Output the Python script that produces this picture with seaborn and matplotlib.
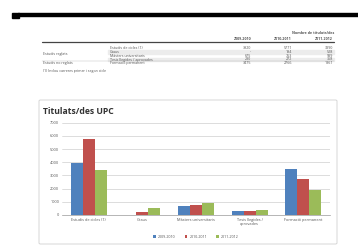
import numpy as np
import pandas as pd
import seaborn as sb
import matplotlib.pyplot as plt
from matplotlib.patches import Rectangle, FancyBboxPatch

# data
years = ["2009-2010", "2010-2011", "2011-2012"]
categories = ["Estudis de cicles (1)", "Graus", "Màsters universitaris",
              "Tesis llegides /\naprovades", "Formació permanent"]
row_labels = ["Estudis de cicles (1)", "Graus", "Màsters universitaris",
              "Tesis llegides / aprovades", "Formació permanent"]
groups = ["Estudis reglats", "Estudis no reglats"]
v_2009 = [3920, np.nan, 675, 280, 3475]
v_2010 = [5771, 194, 763, 272, 2766]
v_2011 = [3390, 528, 939, 358, 1861]
colors = ["#4F81BD", "#C0504D", "#9BBB59"]

W, H = 358, 249


def fx(x):
    return x / W


def fy(y):
    return 1 - y / H


sb.set_theme(style="white")
plt.rcParams['font.family'] = ['Open Sans', 'DejaVu Sans']

fig = plt.figure(figsize=(W / 100, H / 100), dpi=100)
fig.patch.set_facecolor("white")

# page header bar
fig.patches.append(Rectangle((fx(18), fy(15.7)), fx(340), 2.4 / H,
                             transform=fig.transFigure, color="black"))
fig.patches.append(Rectangle((fx(12), fy(18)), fx(7), 5 / H,
                             transform=fig.transFigure, color="black"))

# table
fs = 2.6
tc = "#555555"
fig.text(fx(334), fy(32.5), "Nombre de titulats/des", fontsize=fs, ha="right",
         va="center", color=tc, weight="bold")
col_x = [251, 292, 333]
for cx, yr in zip(col_x, years):
    fig.text(fx(cx), fy(39.3), yr, fontsize=fs, ha="right", va="center",
             color=tc, weight="bold")
fig.add_artist(plt.Line2D([fx(42), fx(334)], [fy(42.5), fy(42.5)],
                          transform=fig.transFigure, color="#444444", lw=0.9))
row_y = [47.7, 51.7, 55.7, 59.5, 63.3]
for i, (ry, lab) in enumerate(zip(row_y, row_labels)):
    if i in (1, 3):
        fig.patches.append(Rectangle((fx(108), fy(ry + 1.9)), fx(226), 3.8 / H,
                                     transform=fig.transFigure, color="#ececec",
                                     zorder=-2))
    fig.text(fx(110), fy(ry), lab, fontsize=fs, va="center", color=tc)
    for cx, vals in zip(col_x, [v_2009, v_2010, v_2011]):
        v = vals[i]
        txt = "-" if np.isnan(v) else str(int(v))
        fig.text(fx(cx), fy(ry), txt, fontsize=fs, ha="right", va="center", color=tc)
fig.add_artist(plt.Line2D([fx(42), fx(334)], [fy(61.5), fy(61.5)],
                          transform=fig.transFigure, color="#bbbbbb", lw=0.3))
fig.text(fx(43), fy(53.7), groups[0], fontsize=fs, va="center", color=tc)
fig.text(fx(43), fy(63.3), groups[1], fontsize=fs, va="center", color=tc)
fig.text(fx(43), fy(71), "(1) Inclou carreres primer i segon cicle", fontsize=fs,
         va="center", color=tc)

# chart box
fig.patches.append(FancyBboxPatch((fx(39), fy(244)), fx(298), 144 / H,
                                  boxstyle="round,pad=0,rounding_size=0.004",
                                  transform=fig.transFigure, facecolor="white",
                                  edgecolor="#d0d0d0", lw=0.6, zorder=-1))
fig.text(fx(43), fy(111), "Titulats/des UPC", fontsize=6.2, weight="bold",
         va="center", color="#333333")

df = pd.DataFrame({
    "categoria": categories * 3,
    "curs": [y for y in years for _ in categories],
    "valor": v_2009 + v_2010 + v_2011,
})

ax = fig.add_axes([fx(62), fy(215), fx(268), (215 - 122.7) / H])
ax.patch.set_alpha(0)
sb.barplot(data=df, x="categoria", y="valor", hue="curs", palette=colors,
           width=0.67, saturation=1, linewidth=0, ax=ax, legend=True)
ax.set_ylim(0, 7000)
ax.set_yticks(range(0, 7001, 1000))
ax.set_xlabel("")
ax.set_ylabel("")
ax.tick_params(axis="both", labelsize=2.8, colors="#555555", length=0, pad=2)
ax.grid(axis="y", color="#cfcfcf", lw=0.5)
ax.set_axisbelow(True)
for s in ["top", "right", "left"]:
    ax.spines[s].set_visible(False)
ax.spines["bottom"].set_color("#999999")
ax.spines["bottom"].set_linewidth(0.5)

ax.legend(loc="center", bbox_to_anchor=(0.5, -(237 - 215) / 92.3),
          ncol=3, frameon=False, fontsize=2.6, handlelength=0.7,
          handleheight=0.7, columnspacing=2.5, handletextpad=0.6,
          labelcolor="#555555")

fig.savefig("out.png", dpi=100)
